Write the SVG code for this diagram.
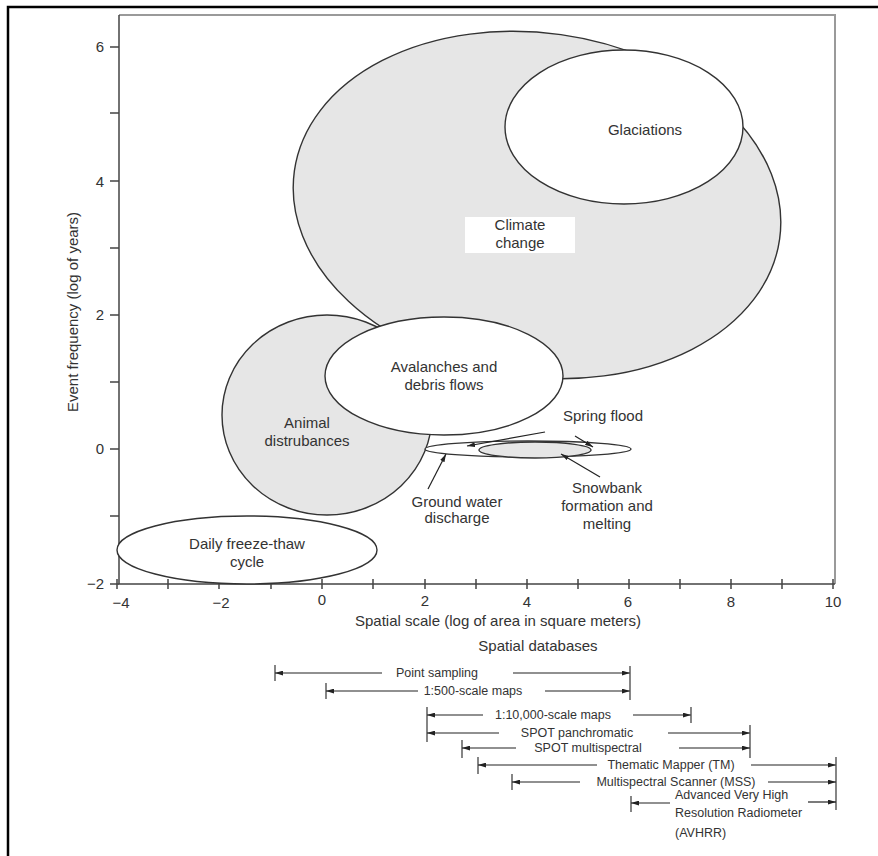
<svg xmlns="http://www.w3.org/2000/svg" width="878" height="856" viewBox="0 0 878 856">
<defs>
<marker id="ah" viewBox="0 0 10 6" refX="10" refY="3" markerWidth="8" markerHeight="5" markerUnits="userSpaceOnUse" orient="auto">
<path d="M0,0 L10,3 L0,6 Z" fill="#222"/>
</marker>
<style>
text{font-family:"Liberation Sans",Arial,sans-serif;fill:#333}
.lbl{font-size:15px;text-anchor:middle}
.tick{font-size:15px}
.db{font-size:12.5px;text-anchor:middle}
.ell{stroke:#333;stroke-width:1.4}
.gray{fill:#e6e6e6}
.white{fill:#fff}
.ax{stroke:#444;stroke-width:1.5;fill:none}
.bar{stroke:#444;stroke-width:1.3}
.con{stroke:#222;stroke-width:1.2;fill:none;marker-end:url(#ah)}
</style>
</defs>
<rect width="878" height="856" fill="#fff"/>
<path d="M8,856 V7 H878" fill="none" stroke="#000" stroke-width="2.5"/>
<path d="M119,15 H835 V584" fill="none" stroke="#9a9a9a" stroke-width="2"/>
<g id="axes">
<path class="ax" d="M119,15 V584 H835"/>
<path class="ax" d="M110,47 H119 M110,113 H119 M110,181 H119 M110,248 H119 M110,315 H119 M110,382 H119 M110,449 H119 M110,516 H119 M110,584 H119"/>
<path class="ax" d="M117,579 V589 M168,579 V589 M219,579 V589 M271,579 V589 M322,579 V589 M373,579 V589 M425,579 V589 M476,579 V589 M527,579 V589 M578,579 V589 M629,579 V589 M680,579 V589 M731,579 V589 M782,579 V589 M833,579 V589"/>
<text class="tick" x="104" y="52" text-anchor="end">6</text>
<text class="tick" x="104" y="187" text-anchor="end">4</text>
<text class="tick" x="104" y="320" text-anchor="end">2</text>
<text class="tick" x="104" y="454" text-anchor="end">0</text>
<text class="tick" x="104" y="589" text-anchor="end">−2</text>
<text class="tick" x="121" y="608" text-anchor="middle">−4</text>
<text class="tick" x="221" y="608" text-anchor="middle">−2</text>
<text class="tick" x="322" y="605" text-anchor="middle">0</text>
<text class="tick" x="425" y="606" text-anchor="middle">2</text>
<text class="tick" x="527" y="607" text-anchor="middle">4</text>
<text class="tick" x="628" y="607" text-anchor="middle">6</text>
<text class="tick" x="731" y="607" text-anchor="middle">8</text>
<text class="tick" x="833" y="607" text-anchor="middle">10</text>
<text class="lbl" x="498" y="626">Spatial scale (log of area in square meters)</text>
<text class="lbl" x="73" y="312" transform="rotate(-90 73 312)" dy="5">Event frequency (log of years)</text>
<text class="lbl" x="538" y="651">Spatial databases</text>
</g>
<g id="climate-change">
<ellipse class="ell gray" cx="537" cy="205" rx="245" ry="172" transform="rotate(8 537 205)"/>
<rect x="465" y="217" width="110" height="36" fill="#fff"/>
<text class="lbl" x="520" y="230">Climate</text>
<text class="lbl" x="520" y="248">change</text>
</g>
<g id="glaciations">
<ellipse class="ell white" cx="624" cy="127" rx="119" ry="77"/>
<text class="lbl" x="645" y="135">Glaciations</text>
</g>
<g id="animal-disturbances">
<ellipse class="ell gray" cx="327" cy="415" rx="105" ry="100"/>
<text class="lbl" x="307" y="428">Animal</text>
<text class="lbl" x="307" y="446">distrubances</text>
</g>
<g id="avalanches">
<ellipse class="ell white" cx="444" cy="376" rx="119" ry="59"/>
<text class="lbl" x="444" y="372">Avalanches and</text>
<text class="lbl" x="444" y="390">debris flows</text>
</g>
<g id="spring-flood">
<ellipse class="ell white" cx="528" cy="449" rx="103" ry="8"/>
<text class="lbl" x="603" y="421">Spring flood</text>
</g>
<g id="snowbank">
<ellipse class="ell gray" cx="535" cy="450" rx="56" ry="8"/>
<text class="lbl" x="607" y="493">Snowbank</text>
<text class="lbl" x="607" y="511">formation and</text>
<text class="lbl" x="607" y="529">melting</text>
</g>
<g id="ground-water">
<text class="lbl" x="457" y="507">Ground water</text>
<text class="lbl" x="457" y="523">discharge</text>
</g>
<g id="daily-freeze-thaw">
<ellipse class="ell white" cx="247" cy="550" rx="130" ry="34"/>
<text class="lbl" x="247" y="549">Daily freeze-thaw</text>
<text class="lbl" x="247" y="567">cycle</text>
</g>
<g id="connectors">
<path class="con" d="M545,432 L467,446"/>
<path class="con" d="M575,436 L593,447"/>
<path class="con" d="M600,477 L561,454"/>
<path class="con" d="M428,489 L446,454"/>
</g>
<g id="spatial-databases">
<g id="db-point">
<path class="bar" d="M275,665 V681"/>
<path class="con" d="M382,673 H275"/>
<text class="db" x="437" y="677">Point sampling</text>
<path class="con" d="M513,673 H630"/>
</g>
<g id="db-500">
<path class="bar" d="M326,683 V699"/>
<path class="con" d="M418,691 H326"/>
<text class="db" x="473" y="695">1:500-scale maps</text>
<path class="con" d="M545,691 H630"/>
<path class="bar" d="M630,666 V700"/>
</g>
<g id="db-10000">
<path class="bar" d="M427,707 V742"/>
<path class="con" d="M483,715 H427"/>
<text class="db" x="553" y="719">1:10,000-scale maps</text>
<path class="con" d="M633,715 H691"/>
<path class="bar" d="M691,707 V723"/>
</g>
<g id="db-spot-pan">
<path class="con" d="M499,733 H427"/>
<text class="db" x="577" y="737">SPOT panchromatic</text>
<path class="con" d="M668,733 H750"/>
<path class="bar" d="M750,725 V758"/>
</g>
<g id="db-spot-ms">
<path class="bar" d="M462,740 V758"/>
<path class="con" d="M516,748 H462"/>
<text class="db" x="588" y="752">SPOT multispectral</text>
<path class="con" d="M679,748 H750"/>
</g>
<g id="db-tm">
<path class="bar" d="M478,757 V774"/>
<path class="con" d="M597,765 H478"/>
<text class="db" x="671" y="769">Thematic Mapper (TM)</text>
<path class="con" d="M751,765 H836"/>
<path class="bar" d="M836,757 V810"/>
</g>
<g id="db-mss">
<path class="bar" d="M512,774 V790"/>
<path class="con" d="M580,782 H512"/>
<text class="db" x="676" y="786">Multispectral Scanner (MSS)</text>
<path class="con" d="M768,782 H836"/>
</g>
<g id="db-avhrr">
<path class="bar" d="M631,796 V812"/>
<path class="con" d="M670,803 H631"/>
<text class="db" x="675" y="799" style="text-anchor:start">Advanced Very High</text>
<text class="db" x="675" y="817" style="text-anchor:start">Resolution Radiometer</text>
<text class="db" x="675" y="837" style="text-anchor:start">(AVHRR)</text>
<path class="con" d="M808,802 H836"/>
</g>
</g>
</svg>
